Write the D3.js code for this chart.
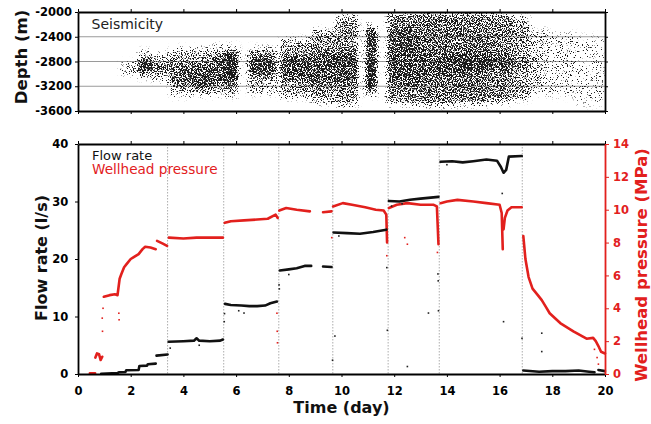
<!DOCTYPE html>
<html>
<head>
<meta charset="utf-8">
<script src="https://cdn.jsdelivr.net/npm/d3@7"></script>
<style>
  body { margin: 0; background: #fff; }
  svg { display: block; }
</style>
</head>
<body>
<div id="chart"></div>
<script>
// ---- values ----

var timeTicks = [0, 2, 4, 6, 8, 10, 12, 14, 16, 18, 20];
var depthTicks = [-2000, -2400, -2800, -3200, -3600];
var flowTicks = [0, 10, 20, 30, 40];
var presTicks = [0, 2, 4, 6, 8, 10, 12, 14];

// days when the injection rate was changed (dotted lines)
var stepDays = [3.4, 5.53, 7.62, 9.67, 11.77, 13.71, 16.86];

// seismicity cloud, read as time segments: outer envelope and dense core (depth in m)
var segStart = [1.62, 2.27, 2.84, 3.48, 4.3, 5.13, 5.6, 6.46, 7.66, 8.87, 9.8, 10.9, 11.73, 13.0, 14.3, 15.6, 16.5, 17.15, 17.8, 18.9];
var segEnd   = [2.27, 2.84, 3.48, 4.3, 5.13, 5.6, 6.09, 7.53, 8.87, 9.8, 10.62, 11.35, 13.0, 14.3, 15.6, 16.5, 17.15, 17.8, 18.9, 20];
var envTop   = [-2830, -2640, -2690, -2600, -2600, -2560, -2560, -2590, -2450, -2300, -2080, -2210, -2020, -2000, -2000, -2030, -2100, -2300, -2350, -2400];
var envBot   = [-2990, -3050, -3100, -3350, -3330, -3330, -3340, -3300, -3370, -3450, -3500, -3340, -3480, -3500, -3480, -3450, -3400, -3300, -3350, -3500];
var coreTop  = [-2870, -2750, -2800, -2800, -2820, -2700, -2670, -2700, -2700, -2660, -2600, -2300, -2300, -2650, -2700, -2720, -2760, -2780, -2800, -2800];
var coreBot  = [-2960, -2980, -3000, -3200, -3230, -3150, -3150, -3040, -3100, -3180, -3180, -3250, -3150, -3050, -2950, -2920, -2900, -2860, -2800, -2800];
var envDens  = [0.3, 0.4, 0.38, 0.42, 0.45, 0.45, 0.5, 0.45, 0.5, 0.52, 0.55, 0.55, 0.6, 0.62, 0.62, 0.58, 0.48, 0.32, 0.2, 0.16];
var coreDens = [0.45, 0.75, 0.6, 0.65, 0.7, 0.68, 0.85, 0.75, 0.72, 0.72, 0.72, 0.8, 0.72, 0.72, 0.8, 0.75, 0.62, 0.5, 0.2, 0.16];

// flow rate (l/s), null = break in the trace
var flowDays = [0.88, 1.5, 1.55, 1.8, 1.83, 2.3, 2.33, 2.62, 2.65, 2.95, 2.96,
  2.98, 3.4, 3.42, 3.44, 4.0, 4.4, 4.5, 4.6, 5.0, 5.4, 5.5, 5.55,
  5.58, 5.8, 6.2, 6.5, 6.8, 7.1, 7.3, 7.55, 7.6,
  7.66, 8.0, 8.3, 8.6, 8.85, 9.0,
  9.3, 9.62, 9.65,
  9.7, 10.2, 10.7, 11.2, 11.7, 11.75,
  11.8, 12.2, 12.6, 13.0, 13.68, 13.7,
  13.76, 14.2, 14.6, 15.0, 15.5, 15.9, 16.05, 16.15, 16.25, 16.35, 16.84, 16.86,
  16.9, 17.5, 18.0, 18.5, 19.0, 19.4, 19.6, 19.7,
  19.75, 20];
var flowRates = [0.05, 0.15, 0.3, 0.35, 0.65, 0.7, 1.4, 1.45, 1.7, 1.8, null,
  3.2, 3.4, null, 5.6, 5.7, 5.8, 6.2, 5.8, 5.7, 5.8, 6.0, null,
  12.2, 12.0, 11.9, 11.8, 11.8, 11.9, 12.3, 12.6, null,
  18.0, 18.2, 18.4, 18.8, 18.8, null,
  18.7, 18.6, null,
  24.6, 24.5, 24.4, 24.7, 25.1, null,
  30.1, 30.0, 30.3, 30.5, 30.8, null,
  36.9, 37.0, 36.8, 37.0, 37.3, 37.1, 36.0, 35.0, 35.5, 37.8, 37.9, null,
  0.6, 0.4, 0.5, 0.5, 0.6, 0.4, 0.3, null,
  0.7, 0.5];

// wellhead pressure (MPa), null = break in the trace
var presDays = [0.45, 0.65, 0.66,
  0.66, 0.72, 0.8, 0.86, 0.92, 0.95,
  0.98, 1.2, 1.4, 1.5,
  1.58, 1.65, 1.75, 1.85, 2.0, 2.1, 2.3, 2.45, 2.55, 2.75, 2.95, 2.97,
  3.0, 3.2, 3.38, 3.4,
  3.45, 4.0, 4.5, 5.0, 5.5, 5.52,
  5.57, 5.8, 6.3, 6.8, 7.2, 7.5, 7.58, 7.6,
  7.64, 7.9, 8.3, 8.8, 9.0,
  9.3, 9.62, 9.65,
  9.68, 10.05, 10.4, 10.9, 11.3, 11.6, 11.7, 11.73, 11.76,
  11.8, 12.1, 12.5, 13.0, 13.5, 13.62, 13.68, 13.7,
  13.76, 14.0, 14.4, 15.0, 15.5, 16.0, 16.08, 16.12, 16.13,
  16.15, 16.2, 16.3, 16.45, 16.84, 16.86,
  16.9, 16.98, 17.1, 17.25, 17.45, 17.6, 17.75, 17.9, 18.3, 18.8, 19.3, 19.55, 19.65, 19.75, 19.85, 20];
var presValues = [0.05, 0.05, null,
  1.0, 1.25, 1.2, 0.85, 1.05, null,
  4.7, 4.8, 4.85, 4.8,
  5.8, 6.1, 6.5, 6.7, 7.0, 7.1, 7.3, 7.6, 7.75, 7.7, 7.6, null,
  8.1, 7.95, 7.8, null,
  8.3, 8.25, 8.3, 8.3, 8.3, null,
  9.2, 9.3, 9.35, 9.4, 9.45, 9.7, 9.5, null,
  9.95, 10.1, 10.0, 9.9, null,
  9.85, 9.9, null,
  10.2, 10.4, 10.3, 10.15, 10.0, 9.95, 9.7, 8.0, null,
  10.1, 10.3, 10.4, 10.3, 10.3, 10.2, 7.9, null,
  10.4, 10.5, 10.6, 10.5, 10.4, 10.3, 9.8, 7.6, null,
  8.8, 9.5, 9.95, 10.15, 10.15, null,
  8.4, 7.0, 5.9, 5.2, 4.8, 4.5, 4.1, 3.7, 3.1, 2.6, 2.15, 2.2, 2.0, 1.7, 1.35, 1.25];

// isolated readings during rate changes
var flowDotDays = [3.5, 5.55, 5.56, 7.63, 7.64, 9.66, 9.75, 11.72, 11.74, 12.5, 13.3, 13.66, 13.67, 13.68, 16.1, 16.15, 16.85, 17.6, 17.6, 4.6, 6.1, 6.3, 8.0, 9.9, 11.9, 12.3, 14.0];
var flowDotVals = [4.5, 9.1, 10.5, 15.5, 14.8, 2.4, 6.6, 18.5, 7.6, 1.3, 10.6, 17.4, 16.2, 11.0, 31.4, 9.1, 6.2, 7.1, 3.9, 5.0, 11.0, 10.6, 17.3, 24.0, 29.2, 29.6, 36.4];
var presDotDays = [0.92, 0.93, 0.95, 1.55, 1.56, 7.55, 7.56, 7.57, 9.63, 11.72, 12.4, 12.5, 13.64, 19.6, 19.7, 19.75];
var presDotVals = [3.4, 2.6, 4.0, 3.7, 3.3, 3.7, 2.6, 1.9, 8.3, 7.2, 8.3, 7.9, 7.4, 1.5, 1.0, 0.6];

// ---- layout ----
var W = 651, H = 424;
var plotL = 78, plotR = 605;
var top1 = 12, bot1 = 111;
var top2 = 144, bot2 = 374;
var red = "#e2201d";
var tickFont = "'DejaVu Sans', Verdana, sans-serif";

var svg = d3.select("#chart").append("svg")
    .attr("width", W)
    .attr("height", H);

var x = d3.scaleLinear().domain([0, 20]).range([plotL, plotR]);
var yDepth = d3.scaleLinear().domain([-2000, -3600]).range([top1, bot1]);
var yFlow = d3.scaleLinear().domain([0, 40]).range([bot2, top2]);
var yPres = d3.scaleLinear().domain([0, 14]).range([bot2, top2]);

var defs = svg.append("defs");
defs.append("clipPath").attr("id", "clipTop")
  .append("rect")
    .attr("x", plotL).attr("y", top1)
    .attr("width", plotR - plotL).attr("height", bot1 - top1);

// speckle filter: turns the grey density blocks into a scatter-like texture
var f = defs.append("filter")
    .attr("id", "speckle")
    .attr("filterUnits", "userSpaceOnUse")
    .attr("x", plotL).attr("y", top1)
    .attr("width", plotR - plotL).attr("height", bot1 - top1)
    .attr("color-interpolation-filters", "sRGB");
f.append("feGaussianBlur").attr("in", "SourceGraphic").attr("stdDeviation", "2 3.2").attr("result", "dens");
f.append("feTurbulence").attr("type", "fractalNoise").attr("baseFrequency", 0.8)
    .attr("numOctaves", 2).attr("seed", 7).attr("result", "noise");
f.append("feColorMatrix").attr("in", "noise").attr("type", "matrix")
    .attr("values", "0 0 0 0 0  0 0 0 0 0  0 0 0 0 0  2.6 0 0 0 -0.8").attr("result", "na");
f.append("feComposite").attr("in", "dens").attr("in2", "na").attr("operator", "arithmetic")
    .attr("k1", 0).attr("k2", 6).attr("k3", -6).attr("k4", 0).attr("result", "th");
f.append("feColorMatrix").attr("in", "th").attr("type", "matrix")
    .attr("values", "0 0 0 0 0.1  0 0 0 0 0.1  0 0 0 0 0.1  0 0 0 1 0");

// ---------- top panel: seismicity ----------

var topPanel = svg.append("g");

topPanel.selectAll(".grid")
  .data(depthTicks.slice(1, -1))
  .enter().append("line")
    .attr("x1", plotL).attr("x2", plotR)
    .attr("y1", function(d) { return yDepth(d); })
    .attr("y2", function(d) { return yDepth(d); })
    .attr("stroke", "#9a9a9a")
    .attr("stroke-width", 1);

var seis = topPanel.append("g").attr("clip-path", "url(#clipTop)")
  .append("g").attr("filter", "url(#speckle)");

segStart.forEach(function(s, i) {
  seis.append("rect")
    .attr("x", x(s))
    .attr("y", yDepth(envTop[i]))
    .attr("width", x(segEnd[i]) - x(s))
    .attr("height", yDepth(envBot[i]) - yDepth(envTop[i]))
    .attr("fill", "#000")
    .attr("fill-opacity", envDens[i]);
  var extra = 1 - (1 - coreDens[i]) / (1 - envDens[i]);
  if (extra > 0 && coreBot[i] < coreTop[i]) {
    seis.append("rect")
      .attr("x", x(s))
      .attr("y", yDepth(coreTop[i]))
      .attr("width", x(segEnd[i]) - x(s))
      .attr("height", yDepth(coreBot[i]) - yDepth(coreTop[i]))
      .attr("fill", "#000")
      .attr("fill-opacity", extra);
  }
});

topPanel.append("g")
    .attr("transform", "translate(" + plotL + ",0)")
    .call(d3.axisLeft(yDepth).tickValues(depthTicks).tickSize(3).tickSizeOuter(0).tickPadding(3)
      .tickFormat(function(d) { return String(d); }));
topPanel.append("g")
    .attr("transform", "translate(" + plotR + ",0)")
    .call(d3.axisRight(yDepth).tickValues(depthTicks).tickSize(3).tickSizeOuter(0).tickFormat(""));
topPanel.append("g")
    .attr("transform", "translate(0," + top1 + ")")
    .call(d3.axisTop(x).tickValues(timeTicks).tickSize(3).tickSizeOuter(0).tickFormat(""));
topPanel.append("g")
    .attr("transform", "translate(0," + bot1 + ")")
    .call(d3.axisBottom(x).tickValues(timeTicks).tickSize(3).tickSizeOuter(0).tickFormat(""));

topPanel.append("text")
    .attr("x", 91.5)
    .attr("y", 29)
    .attr("font-family", tickFont)
    .attr("font-size", "14px")
    .attr("fill", "#222")
    .text("Seismicity");

// ---------- bottom panel: flow rate and pressure ----------

var botPanel = svg.append("g");

botPanel.selectAll(".step")
  .data(stepDays)
  .enter().append("line")
    .attr("x1", function(d) { return x(d); })
    .attr("x2", function(d) { return x(d); })
    .attr("y1", top2).attr("y2", bot2)
    .attr("stroke", "#8a8a8a")
    .attr("stroke-width", 0.7)
    .attr("stroke-dasharray", "1.5,1.5");

var presLine = d3.line()
    .defined(function(d) { return d[1] != null; })
    .x(function(d) { return x(d[0]); })
    .y(function(d) { return yPres(d[1]); });

var flowLine = d3.line()
    .defined(function(d) { return d[1] != null; })
    .x(function(d) { return x(d[0]); })
    .y(function(d) { return yFlow(d[1]); });

botPanel.append("path")
    .datum(d3.zip(presDays, presValues))
    .attr("fill", "none")
    .attr("stroke", red)
    .attr("stroke-width", 2.6)
    .attr("stroke-linejoin", "round")
    .attr("stroke-linecap", "round")
    .attr("d", presLine);

botPanel.selectAll(".pdot")
  .data(d3.zip(presDotDays, presDotVals))
  .enter().append("rect")
    .attr("x", function(d) { return x(d[0]) - 0.8; })
    .attr("y", function(d) { return yPres(d[1]) - 0.8; })
    .attr("width", 1.6).attr("height", 1.6)
    .attr("fill", red);

botPanel.append("path")
    .datum(d3.zip(flowDays, flowRates))
    .attr("fill", "none")
    .attr("stroke", "#111")
    .attr("stroke-width", 2.6)
    .attr("stroke-linejoin", "round")
    .attr("stroke-linecap", "round")
    .attr("d", flowLine);

botPanel.selectAll(".fdot")
  .data(d3.zip(flowDotDays, flowDotVals))
  .enter().append("rect")
    .attr("x", function(d) { return x(d[0]) - 0.8; })
    .attr("y", function(d) { return yFlow(d[1]) - 0.8; })
    .attr("width", 1.6).attr("height", 1.6)
    .attr("fill", "#222");

botPanel.append("g")
    .attr("transform", "translate(0," + bot2 + ")")
    .call(d3.axisBottom(x).tickValues(timeTicks).tickSize(3).tickSizeOuter(0).tickPadding(9.7)
      .tickFormat(d3.format("d")));
botPanel.append("g")
    .attr("transform", "translate(0," + top2 + ")")
    .call(d3.axisTop(x).tickValues(timeTicks).tickSize(3).tickSizeOuter(0).tickFormat(""));
botPanel.append("g")
    .attr("transform", "translate(" + plotL + ",0)")
    .call(d3.axisLeft(yFlow).tickValues(flowTicks).tickSize(3).tickSizeOuter(0).tickPadding(6.7));
var rAxis = botPanel.append("g")
    .attr("transform", "translate(" + plotR + ",0)")
    .call(d3.axisRight(yPres).tickValues(presTicks).tickSize(4).tickSizeOuter(0).tickPadding(4));
rAxis.attr("color", red);

botPanel.append("text")
    .attr("x", 92)
    .attr("y", 159.5)
    .attr("font-family", tickFont)
    .attr("font-size", "13px")
    .attr("fill", "#111")
    .text("Flow rate");
botPanel.append("text")
    .attr("x", 92)
    .attr("y", 174)
    .attr("font-family", tickFont)
    .attr("font-size", "13.6px")
    .attr("fill", red)
    .text("Wellhead pressure");

// common axis styling
svg.selectAll(".domain").attr("stroke-width", 1.8);
svg.selectAll(".tick line").attr("stroke-width", 1);
svg.selectAll(".tick text")
    .attr("font-family", tickFont)
    .attr("font-weight", "bold")
    .attr("font-size", "11.5px");

// ---------- axis titles ----------

svg.append("text")
    .attr("transform", "translate(27,57) rotate(-90)")
    .attr("text-anchor", "middle")
    .attr("font-family", tickFont)
    .attr("font-weight", "bold")
    .attr("font-size", "16.5px")
    .attr("fill", "#111")
    .text("Depth (m)");

svg.append("text")
    .attr("transform", "translate(47,258) rotate(-90)")
    .attr("text-anchor", "middle")
    .attr("font-family", tickFont)
    .attr("font-weight", "bold")
    .attr("font-size", "16px")
    .attr("fill", "#111")
    .text("Flow rate (l/s)");

svg.append("text")
    .attr("transform", "translate(647,265) rotate(-90)")
    .attr("text-anchor", "middle")
    .attr("font-family", tickFont)
    .attr("font-weight", "bold")
    .attr("font-size", "16.5px")
    .attr("fill", red)
    .text("Wellhead pressure (MPa)");

svg.append("text")
    .attr("x", (plotL + plotR) / 2)
    .attr("y", 413)
    .attr("text-anchor", "middle")
    .attr("font-family", tickFont)
    .attr("font-weight", "bold")
    .attr("font-size", "16px")
    .attr("fill", "#111")
    .text("Time (day)");
</script>
</body>
</html>
